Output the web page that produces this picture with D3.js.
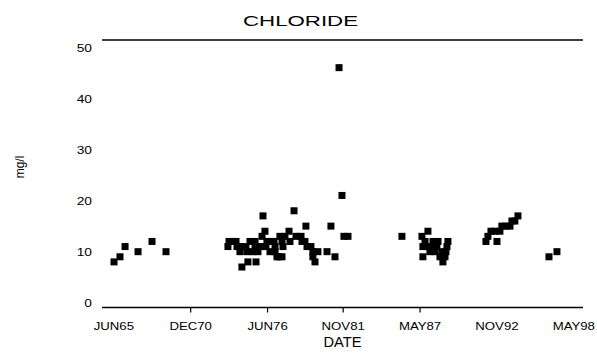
<!DOCTYPE html>
<html>
<head>
<meta charset="utf-8">
<script src="https://cdn.jsdelivr.net/npm/d3@7"></script>
<style>
  html, body { margin: 0; padding: 0; background: #fff; }
  svg { display: block; }
  text { font-family: "Liberation Sans", Arial, sans-serif; fill: #000; }
</style>
</head>
<body>
<svg id="chart" width="597" height="354"></svg>
<script>
// ---- data (decimal years, chloride mg/l) ----
const sampleYears = [
  1965.47, 1965.90, 1966.26, 1967.19, 1968.19, 1969.19,
  1973.62, 1973.70, 1973.91, 1974.20, 1974.27, 1974.48, 1974.48, 1974.62, 1974.91, 1974.98,
  1975.05, 1975.20, 1975.41, 1975.56, 1975.56, 1975.63, 1975.77, 1975.84, 1976.06, 1976.06,
  1976.13, 1976.27, 1976.34, 1976.41, 1976.63, 1976.77, 1976.92, 1976.99, 1976.99, 1977.13,
  1977.27, 1977.34, 1977.49, 1977.49, 1977.56, 1977.70, 1977.99, 1978.06, 1978.35, 1978.49,
  1978.85, 1978.92, 1979.13, 1979.20, 1979.28, 1979.56, 1979.70, 1979.70, 1979.85, 1980.06,
  1980.71, 1980.99, 1981.28, 1981.57, 1981.78, 1981.92, 1982.21,
  1986.07, 1987.50, 1987.93, 1988.29, 1987.72, 1988.65, 1989.36, 1989.29, 1987.57, 1988.07,
  1988.57, 1988.93, 1987.57, 1989.00, 1989.15, 1989.22, 1987.86, 1988.22, 1988.79, 1988.43,
  1992.08, 1992.22, 1992.44, 1992.72, 1992.87, 1993.08, 1993.22, 1993.51, 1993.80, 1993.94,
  1994.15, 1994.37,
  1996.59, 1997.16
];
const chlorideValues = [
  8, 9, 11, 10, 12, 10,
  11, 12, 12, 12, 11, 11, 10, 7, 11, 10,
  8, 12, 10, 12, 11, 8, 10, 11, 11, 13,
  17, 14, 11, 12, 10, 12, 12, 11, 10, 9,
  9, 13, 12, 9, 11, 13, 14, 12, 18, 13,
  13, 12, 12, 15, 11, 11, 10, 9, 8, 10,
  10, 15, 9, 46, 21, 13, 13,
  13, 13, 14, 12, 12, 12, 12, 11, 11, 10,
  11, 10, 9, 8, 9, 10, 11, 11, 9, 10,
  12, 13, 14, 14, 12, 14, 15, 15, 15, 16,
  16, 17,
  9, 10
];
const xTickYears = [1965.42, 1970.92, 1976.42, 1981.83, 1987.33, 1992.83, 1998.33];
const xTickLabels = ["JUN65", "DEC70", "JUN76", "NOV81", "MAY87", "NOV92", "MAY98"];
const xTickMarked = [false, true, true, true, true, false, false];
const yTickValues = [0, 10, 20, 30, 40, 50];

const titleText = "CHLORIDE";
const xTitle = "DATE";
const yTitle = "mg/l";

// ---- layout ----
const svg = d3.select("#chart");
const x = d3.scaleLinear().domain([1965.42, 1998.33]).range([113.3, 573.3]);
const y = d3.scaleLinear().domain([0, 50]).range([302.8, 47.2]);
const frameLeft = 102, frameRight = 583, frameTop = 40, axisY = 307.5;

function stretch(sel, factor) {
  sel.each(function() {
    const w = this.getComputedTextLength();
    d3.select(this).attr("textLength", w * factor).attr("lengthAdjust", "spacingAndGlyphs");
  });
}

// title
svg.append("text")
  .attr("x", 300.5).attr("y", 25.5)
  .attr("text-anchor", "middle")
  .style("font-size", "15px")
  .text(titleText)
  .attr("textLength", 115).attr("lengthAdjust", "spacingAndGlyphs");

// top frame line
svg.append("line")
  .attr("x1", frameLeft).attr("x2", frameRight)
  .attr("y1", frameTop).attr("y2", frameTop)
  .attr("stroke", "#000").attr("stroke-width", 1.4);

// bottom axis
const xAxis = d3.axisBottom(x)
  .tickValues(xTickYears)
  .tickSize(5)
  .tickPadding(8)
  .tickFormat((d, i) => xTickLabels[i]);
const gx = svg.append("g").attr("transform", `translate(0,${axisY})`).call(xAxis);
gx.select(".domain").remove();
gx.selectAll(".tick line")
  .attr("stroke", "#000").attr("stroke-width", 1.2)
  .style("display", (d, i) => xTickMarked[i] ? null : "none");
gx.selectAll(".tick text")
  .attr("font-family", null)
  .style("font-size", "11px")
  .attr("y", 22).attr("dy", null)
  .call(stretch, 1.2);
gx.append("line")
  .attr("x1", frameLeft).attr("x2", frameRight)
  .attr("y1", 0).attr("y2", 0)
  .attr("stroke", "#000").attr("stroke-width", 1.4);

// left axis labels (no axis line)
const yAxis = d3.axisLeft(y).tickValues(yTickValues).tickSize(0).tickPadding(0);
const gy = svg.append("g").attr("transform", "translate(92,0)").call(yAxis);
gy.select(".domain").remove();
gy.selectAll(".tick text")
  .attr("font-family", null)
  .style("font-size", "11px")
  .attr("dy", "0.36em")
  .call(stretch, 1.25);

// axis titles
svg.append("text")
  .attr("x", 342.5).attr("y", 346.5)
  .attr("text-anchor", "middle")
  .style("font-size", "15px")
  .text(xTitle)
  .attr("textLength", 38).attr("lengthAdjust", "spacingAndGlyphs");

svg.append("text")
  .attr("transform", "translate(24,167) rotate(-90)")
  .attr("text-anchor", "middle")
  .style("font-size", "12px")
  .text(yTitle);

// points
const pts = sampleYears.map((t, i) => ({ t, v: chlorideValues[i] }));
const s = 7;
svg.append("g").selectAll("rect")
  .data(pts)
  .join("rect")
  .attr("x", d => x(d.t) - s / 2)
  .attr("y", d => y(d.v) - s / 2)
  .attr("width", s).attr("height", s)
  .attr("fill", "#000");
</script>
</body>
</html>
